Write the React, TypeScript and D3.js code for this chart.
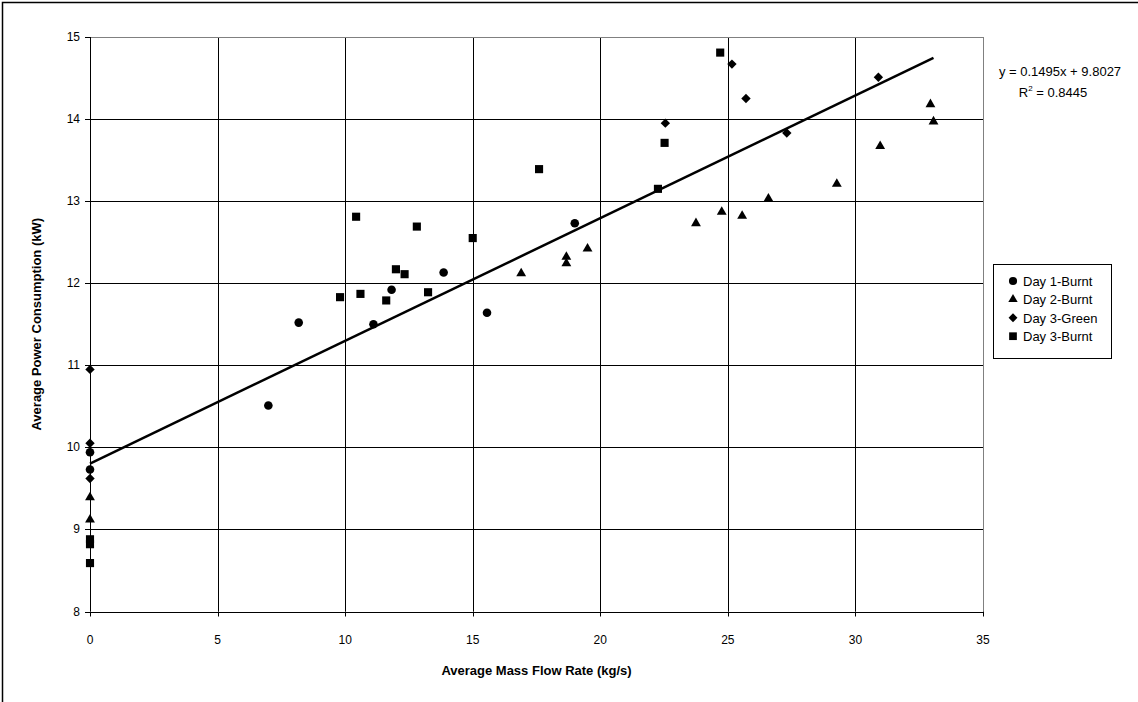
import React from "react";
import * as d3 from "d3";

// series (x: kg/s, y: kW)
const day1BurntX = [0, 0, 6.99, 8.18, 11.11, 11.82, 13.86, 15.56, 19.0];
const day1BurntY = [9.94, 9.73, 10.51, 11.52, 11.5, 11.92, 12.13, 11.64, 12.73];

const day2BurntX = [0, 0, 16.9, 18.67, 18.67, 19.5, 23.75, 24.76, 25.56, 26.59, 29.27, 30.97, 32.94, 33.06];
const day2BurntY = [9.39, 9.12, 12.12, 12.24, 12.32, 12.42, 12.73, 12.87, 12.82, 13.03, 13.21, 13.67, 14.18, 13.97];

const day3GreenX = [0, 0, 0, 22.55, 25.16, 25.71, 27.31, 30.9];
const day3GreenY = [10.95, 10.05, 9.62, 13.95, 14.67, 14.25, 13.83, 14.51];

const day3BurntX = [0, 0, 0, 9.8, 10.43, 10.6, 11.61, 11.99, 12.33, 12.81, 13.25, 15.0, 17.6, 22.26, 22.52, 24.7];
const day3BurntY = [8.88, 8.82, 8.59, 11.83, 12.81, 11.87, 11.79, 12.17, 12.11, 12.69, 11.89, 12.55, 13.39, 13.15, 13.71, 14.81];

const xTicks = [0, 5, 10, 15, 20, 25, 30, 35];
const yTicks = [8, 9, 10, 11, 12, 13, 14, 15];

const slope = 0.1495;
const intercept = 9.8027;
const rSquared = "0.8445";

const font = "Arial, 'Liberation Sans', sans-serif";

const x = d3.scaleLinear().domain([0, 35]).range([90, 983]);
const y = d3.scaleLinear().domain([8, 15]).range([611.5, 37]);

type Shape = "circle" | "triangle" | "diamond" | "square";

// excel-style square diamond (d3's own diamond is too narrow)
const squareDiamond: d3.SymbolType = {
  draw(ctx, size) {
    const r = Math.sqrt(size / 2);
    ctx.moveTo(0, -r);
    ctx.lineTo(r, 0);
    ctx.lineTo(0, r);
    ctx.lineTo(-r, 0);
    ctx.closePath();
  },
};

const symbolFor: Record<Shape, d3.SymbolType> = {
  circle: d3.symbolCircle,
  triangle: d3.symbolTriangle,
  diamond: squareDiamond,
  square: d3.symbolSquare,
};
const sizeFor: Record<Shape, number> = {
  circle: 58,
  triangle: 42,
  diamond: 44,
  square: 66,
};

const series = [
  { name: "Day 1-Burnt", xs: day1BurntX, ys: day1BurntY, shape: "circle" as Shape },
  { name: "Day 2-Burnt", xs: day2BurntX, ys: day2BurntY, shape: "triangle" as Shape },
  { name: "Day 3-Green", xs: day3GreenX, ys: day3GreenY, shape: "diamond" as Shape },
  { name: "Day 3-Burnt", xs: day3BurntX, ys: day3BurntY, shape: "square" as Shape },
];

function marker(shape: Shape, scale = 1) {
  return d3.symbol().type(symbolFor[shape]).size(sizeFor[shape] * scale)() || "";
}

export default function App() {
  const allX = series.flatMap((s) => s.xs);
  const maxX = d3.max(allX) as number;
  const trend = d3
    .line<number>()
    .x((d) => x(d))
    .y((d) => y(slope * d + intercept));

  return (
    <svg width={1138} height={702} style={{ position: "absolute", left: 0, top: 0, background: "#fff" }}>
      <rect x={0} y={0} width={1138} height={702} fill="#fff" />
      <rect x={2.5} y={2.5} width={1300} height={1000} fill="none" stroke="#000" strokeWidth={1.5} />

      {/* grid */}
      {yTicks.slice(1, -1).map((t) => (
        <line key={"gy" + t} x1={x(0)} x2={x(35)} y1={Math.round(y(t)) + 0.5} y2={Math.round(y(t)) + 0.5} stroke="#000" />
      ))}
      {xTicks.slice(1, -1).map((t) => (
        <line key={"gx" + t} x1={Math.round(x(t)) + 0.5} x2={Math.round(x(t)) + 0.5} y1={y(15)} y2={y(8)} stroke="#000" />
      ))}
      {/* plot border top/right */}
      <line x1={x(0)} x2={x(35)} y1={Math.round(y(15)) + 0.5} y2={Math.round(y(15)) + 0.5} stroke="#808080" />
      <line x1={Math.round(x(35)) + 0.5} x2={Math.round(x(35)) + 0.5} y1={y(15)} y2={y(8)} stroke="#808080" />

      {/* axes */}
      <line x1={x(0)} x2={x(35)} y1={Math.round(y(8)) + 0.5} y2={Math.round(y(8)) + 0.5} stroke="#000" />
      <line x1={Math.round(x(0)) + 0.5} x2={Math.round(x(0)) + 0.5} y1={y(15)} y2={y(8)} stroke="#000" />
      {xTicks.map((t) => (
        <g key={"xt" + t}>
          <line x1={Math.round(x(t)) + 0.5} x2={Math.round(x(t)) + 0.5} y1={y(8)} y2={y(8) + 5} stroke="#000" />
          <text x={x(t)} y={644} textAnchor="middle" fontFamily={font} fontSize={12}>
            {t}
          </text>
        </g>
      ))}
      {yTicks.map((t) => (
        <g key={"yt" + t}>
          <line x1={x(0) - 5} x2={x(0)} y1={Math.round(y(t)) + 0.5} y2={Math.round(y(t)) + 0.5} stroke="#000" />
          <text x={80} y={y(t) + 4} textAnchor="end" fontFamily={font} fontSize={12}>
            {t}
          </text>
        </g>
      ))}

      {/* axis titles */}
      <text x={(x(0) + x(35)) / 2} y={675} textAnchor="middle" fontFamily={font} fontSize={13} fontWeight="bold">
        Average Mass Flow Rate (kg/s)
      </text>
      <text
        transform={`translate(41,${(y(8) + y(15)) / 2}) rotate(-90)`}
        textAnchor="middle"
        fontFamily={font}
        fontSize={13}
        fontWeight="bold"
      >
        Average Power Consumption (kW)
      </text>

      {/* points */}
      {series.map((s) =>
        s.xs.map((xv, i) => (
          <path key={s.name + i} d={marker(s.shape)} transform={`translate(${x(xv)},${y(s.ys[i])})`} fill="#000" />
        ))
      )}

      {/* trendline */}
      <path d={trend([0, maxX]) || ""} fill="none" stroke="#000" strokeWidth={2.5} />

      {/* equation */}
      <text x={1060} y={76} textAnchor="middle" fontFamily={font} fontSize={13}>
        y = {slope}x + {intercept}
      </text>
      <text x={1053} y={97} textAnchor="middle" fontFamily={font} fontSize={13}>
        R<tspan dy={-6} fontSize={8}>2</tspan>
        <tspan dy={6}> = {rSquared}</tspan>
      </text>

      {/* legend */}
      <rect x={993.5} y={264.5} width={118} height={94} fill="#fff" stroke="#000" />
      {series.map((s, i) => (
        <g key={"lg" + s.name} transform={`translate(0,${281 + i * 18.4})`}>
          <path d={marker(s.shape, 0.9)} transform="translate(1013,0)" fill="#000" />
          <text x={1023} y={5} fontFamily={font} fontSize={13}>
            {s.name}
          </text>
        </g>
      ))}
    </svg>
  );
}
